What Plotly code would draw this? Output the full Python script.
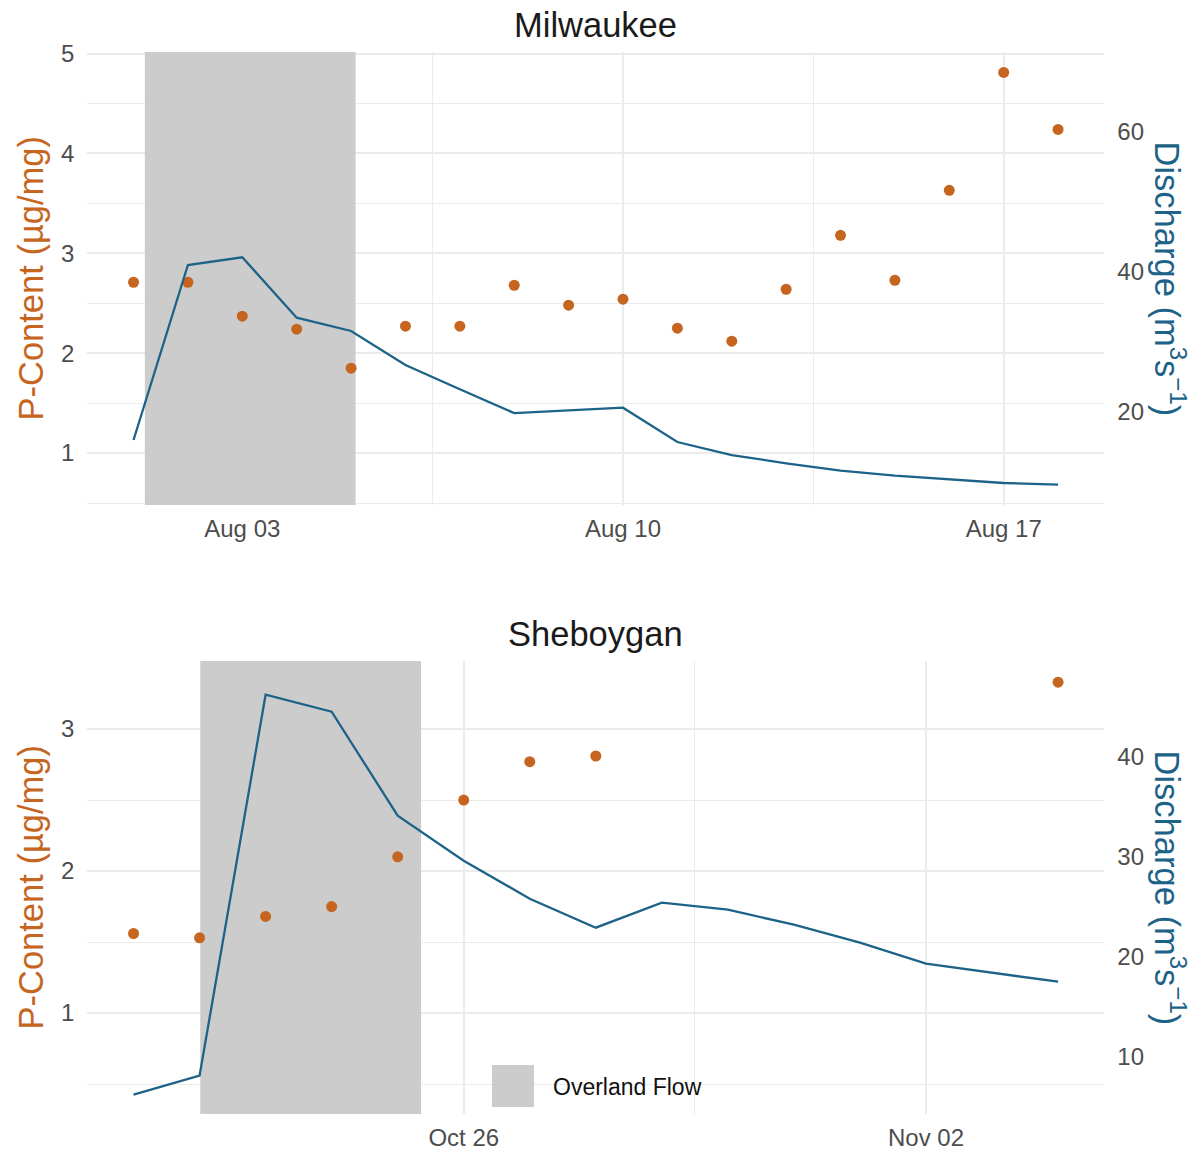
import plotly.graph_objects as go

W, H = 1202, 1152
FONT = "Liberation Sans, Arial, sans-serif"
ORANGE = "#C6651F"
BLUE = "#1D6388"
GRID = "#EBEBEB"
SHADE = "#CCCCCC"
TICK = "#4D4D4D"

# ---------------- data ----------------
mil_dates = ["2021-08-01", "2021-08-02", "2021-08-03", "2021-08-04", "2021-08-05",
             "2021-08-06", "2021-08-07", "2021-08-08", "2021-08-09", "2021-08-10",
             "2021-08-11", "2021-08-12", "2021-08-13", "2021-08-14", "2021-08-15",
             "2021-08-16", "2021-08-17", "2021-08-18"]
mil_pcontent = [2.71, 2.71, 2.37, 2.24, 1.85, 2.27, 2.27, 2.68, 2.48, 2.54,
                2.25, 2.12, 2.64, 3.18, 2.73, 3.63, 4.81, 4.24]
mil_discharge = [15.96, 40.96, 42.06, 33.43, 31.53, 26.67, 23.2, 19.8, 20.2, 20.57,
                 15.67, 13.81, 12.63, 11.57, 10.86, 10.29, 9.81, 9.57]
mil_overland = ["2021-08-01 05:00", "2021-08-05 02:00"]

she_dates = ["2021-10-21", "2021-10-22", "2021-10-23", "2021-10-24", "2021-10-25",
             "2021-10-26", "2021-10-27", "2021-10-28", "2021-10-29", "2021-10-30",
             "2021-10-31", "2021-11-01", "2021-11-02", "2021-11-03", "2021-11-04"]
she_pcontent = [1.56, 1.53, 1.68, 1.75, 2.10, 2.50, 2.77, 2.81, None, None,
                None, None, None, None, 3.33]
she_discharge = [6.2, 8.1, 46.2, 44.5, 34.1, 29.6, 25.8, 22.9, 25.4, 24.7,
                 23.2, 21.4, 19.3, 18.4, 17.5]
she_overland = ["2021-10-22 00:15", "2021-10-25 08:30"]

mil_xticks = ["2021-08-03", "2021-08-10", "2021-08-17"]
mil_xminor = ["2021-08-06 12:00", "2021-08-13 12:00"]
she_xticks = ["2021-10-26", "2021-11-02"]
she_xminor = ["2021-10-22 12:00", "2021-10-29 12:00"]

mil_yticks = [1, 2, 3, 4, 5]
mil_yminor = [0.5, 1.5, 2.5, 3.5, 4.5]
mil_y2ticks = [20, 40, 60]
she_yticks = [1, 2, 3]
she_yminor = [0.5, 1.5, 2.5]
she_y2ticks = [10, 20, 30, 40]

titles = ["Milwaukee", "Sheboygan"]
legend_label = "Overland Flow"
ytitle_left = "P-Content (µg/mg)"
ytitle_right = "Discharge (m<sup>3</sup>s<sup>\u22121</sup>)"

# ---------------- layout geometry (pixels) ----------------
X0, X1 = 87.3, 1104.3
PANELS = [(52, 505), (661, 1114)]


def px_x(v):
    return v / W


def px_y(v):
    return 1 - v / H


fig = go.Figure()

# shading (overland flow periods) on hidden full-height axes, drawn first
for per, xa, ya in [(mil_overland, "x", "y"), (she_overland, "x2", "y4")]:
    fig.add_trace(go.Scatter(x=[per[0], per[0], per[1], per[1]], y=[0, 1, 1, 0],
                             mode="lines", fill="toself", fillcolor=SHADE,
                             line=dict(width=0), xaxis=xa, yaxis=ya,
                             showlegend=False, hoverinfo="skip"))

# top panel traces
fig.add_trace(go.Scatter(x=mil_dates, y=mil_pcontent, mode="markers",
                         marker=dict(color=ORANGE, size=11), xaxis="x", yaxis="y2",
                         showlegend=False))
fig.add_trace(go.Scatter(x=mil_dates, y=mil_discharge, mode="lines",
                         line=dict(color=BLUE, width=2.3), xaxis="x", yaxis="y3",
                         showlegend=False))
# bottom panel traces
fig.add_trace(go.Scatter(x=she_dates, y=she_pcontent, mode="markers",
                         marker=dict(color=ORANGE, size=11), xaxis="x2", yaxis="y5",
                         showlegend=False))
fig.add_trace(go.Scatter(x=she_dates, y=she_discharge, mode="lines",
                         line=dict(color=BLUE, width=2.3), xaxis="x2", yaxis="y6",
                         showlegend=False))

tickfont = dict(family=FONT, size=24, color=TICK)


def xaxis(rng, ticks, minor, anchor):
    return dict(domain=[px_x(X0), px_x(X1)], anchor=anchor, type="date", range=rng,
                tickmode="array", tickvals=ticks, tickformat="%b %d", automargin=False,
                showgrid=True, gridcolor=GRID, gridwidth=2, zeroline=False,
                showline=False, ticks="", tickfont=tickfont, ticklabelstandoff=7,
                minor=dict(tickmode="array", tickvals=minor, showgrid=True,
                           gridcolor=GRID, gridwidth=1.2, ticks=""))


def base_yaxis(anchor, dom):
    return dict(domain=dom, anchor=anchor, range=[0, 1], showgrid=False, automargin=False,
                zeroline=False, showline=False, showticklabels=False, ticks="",
                fixedrange=True)


def left_yaxis(rng, ticks, minor, overlay, anchor):
    return dict(overlaying=overlay, side="left", anchor=anchor, range=rng,
                tickmode="array", tickvals=ticks, automargin=False,
                showgrid=True, gridcolor=GRID, gridwidth=2, zeroline=False,
                showline=False, ticks="", tickfont=tickfont, ticklabelstandoff=12,
                minor=dict(tickmode="array", tickvals=minor, showgrid=True,
                           gridcolor=GRID, gridwidth=1.2, ticks=""))


def right_yaxis(rng, ticks, overlay, anchor):
    return dict(overlaying=overlay, side="right", anchor=anchor, range=rng,
                tickmode="array", tickvals=ticks, showgrid=False, zeroline=False,
                automargin=False, showline=False, ticks="", tickfont=tickfont,
                ticklabelstandoff=12)


dom_top = [px_y(PANELS[0][1]), px_y(PANELS[0][0])]
dom_bot = [px_y(PANELS[1][1]), px_y(PANELS[1][0])]

fig.update_layout(
    width=W, height=H, margin=dict(l=0, r=0, t=0, b=0, autoexpand=False),
    paper_bgcolor="white", plot_bgcolor="white",
    font=dict(family=FONT),
    showlegend=False,
    xaxis=xaxis(["2021-07-31 03:36", "2021-08-18 20:24"], mil_xticks, mil_xminor, "y"),
    yaxis=base_yaxis("x", dom_top),
    yaxis2=left_yaxis([0.480, 5.015], mil_yticks, mil_yminor, "y", "x"),
    yaxis3=right_yaxis([6.67, 71.39], mil_y2ticks, "y", "x"),
    xaxis2=xaxis(["2021-10-20 07:12", "2021-11-04 16:48"], she_xticks, she_xminor, "y4"),
    yaxis4=base_yaxis("x2", dom_bot),
    yaxis5=left_yaxis([0.289, 3.479], she_yticks, she_yminor, "y4", "x2"),
    yaxis6=right_yaxis([4.27, 49.57], she_y2ticks, "y4", "x2"),
)

# titles and axis titles
for i, (top, bot) in enumerate(PANELS):
    mid = (top + bot) / 2
    fig.add_annotation(x=px_x((X0 + X1) / 2), y=px_y(top - 27), xref="paper", yref="paper",
                       text=titles[i], showarrow=False, xanchor="center", yanchor="middle",
                       font=dict(family=FONT, size=34.5, color="#1A1A1A"))
    fig.add_annotation(x=px_x(30), y=px_y(mid), xref="paper", yref="paper",
                       text=ytitle_left, textangle=-90, showarrow=False,
                       xanchor="center", yanchor="middle",
                       font=dict(family=FONT, size=34.5, color=ORANGE))
    fig.add_annotation(x=px_x(1170), y=px_y(mid), xref="paper", yref="paper",
                       text=ytitle_right, textangle=90,
                       showarrow=False, xanchor="center", yanchor="middle",
                       font=dict(family=FONT, size=34.5, color=BLUE))

# legend (Overland Flow key)
fig.add_shape(type="rect", xref="paper", yref="paper",
              x0=px_x(492), x1=px_x(534), y0=px_y(1107), y1=px_y(1065),
              fillcolor=SHADE, line=dict(width=0), layer="above")
fig.add_annotation(x=px_x(551), y=px_y(1087), xref="paper", yref="paper",
                   text=legend_label, showarrow=False, xanchor="left", yanchor="middle",
                   font=dict(family=FONT, size=23, color="#111111"))

fig.write_html("out.html", config={"displayModeBar": False},
               post_script="document.body.style.margin='0';"
                           "document.body.style.overflow='hidden';")
